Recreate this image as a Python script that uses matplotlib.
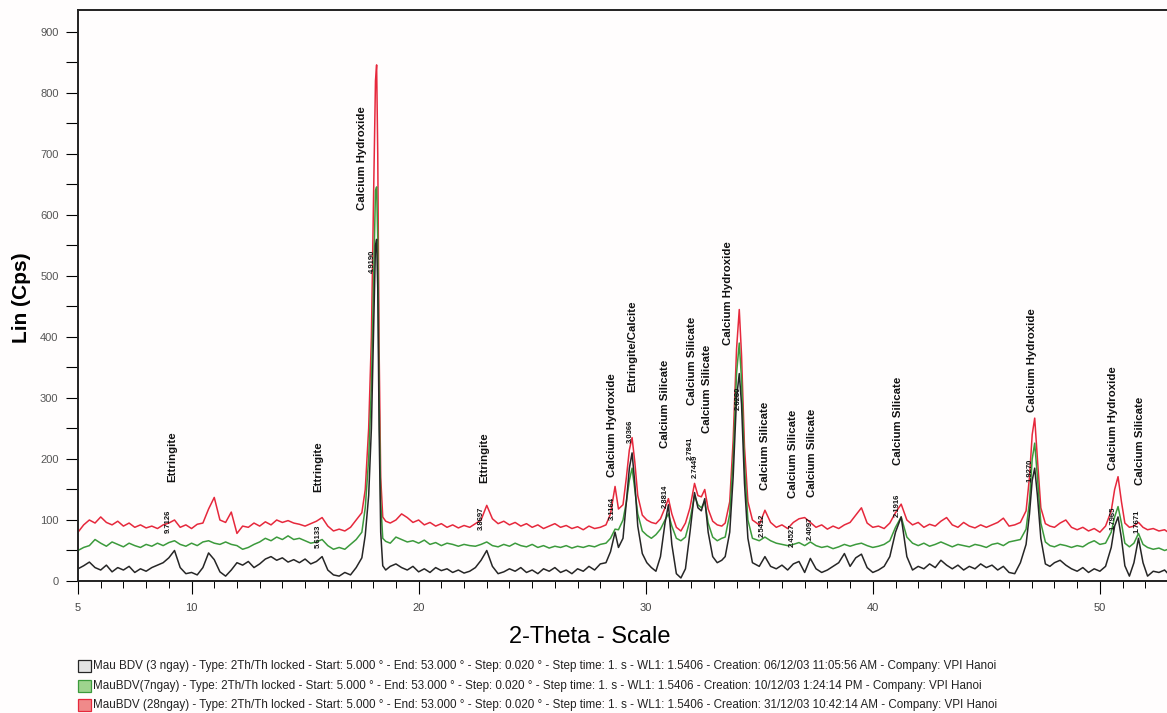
import matplotlib.pyplot as plt
from matplotlib.patches import Rectangle
from matplotlib.ticker import MultipleLocator

plt.rcParams['font.family'] = ['Liberation Sans', 'DejaVu Sans']

# 2-theta positions (denser around the peaks)
two_theta = [
    5.00, 5.25, 5.50, 5.75, 6.00, 6.25, 6.50, 6.75, 7.00, 7.25, 7.50, 7.75, 8.00, 8.25, 8.50, 8.75,
    9.00, 9.25, 9.50, 9.75, 10.00, 10.25, 10.50, 10.75, 11.00, 11.25, 11.50, 11.75, 12.00, 12.25,
    12.50, 12.75, 13.00, 13.25, 13.50, 13.75, 14.00, 14.25, 14.50, 14.75, 15.00, 15.25, 15.50,
    15.75, 16.00, 16.25, 16.50, 16.75, 17.00, 17.25, 17.50,
    17.65, 17.80, 17.92, 18.02, 18.10, 18.15, 18.20, 18.26, 18.33, 18.42, 18.55, 18.75,
    19.00, 19.25, 19.50, 19.75, 20.00, 20.25, 20.50, 20.75, 21.00, 21.25, 21.50, 21.75, 22.00,
    22.25, 22.50, 22.75, 23.00, 23.25, 23.50, 23.75, 24.00, 24.25, 24.50, 24.75, 25.00, 25.25,
    25.50, 25.75, 26.00, 26.25, 26.50, 26.75, 27.00, 27.25, 27.50, 27.75, 28.00,
    28.25, 28.45, 28.65, 28.80, 29.00, 29.15, 29.28, 29.40, 29.52, 29.65, 29.85, 30.05, 30.25,
    30.45, 30.65, 30.85, 31.00, 31.15, 31.35, 31.55, 31.75, 31.95, 32.15, 32.30, 32.45, 32.60,
    32.75, 32.95, 33.15, 33.35, 33.50, 33.70, 33.85, 34.00, 34.12, 34.22, 34.35, 34.50, 34.70,
    35.00, 35.25, 35.50, 35.75, 36.00, 36.25, 36.50, 36.75, 37.00, 37.25, 37.50, 37.75, 38.00,
    38.25, 38.50, 38.75, 39.00, 39.25, 39.50, 39.75, 40.00, 40.25, 40.50, 40.75, 41.00, 41.25,
    41.50, 41.75, 42.00, 42.25, 42.50, 42.75, 43.00, 43.25, 43.50, 43.75, 44.00, 44.25, 44.50,
    44.75, 45.00, 45.25, 45.50, 45.75, 46.00, 46.25, 46.50, 46.75,
    46.90, 47.02, 47.13, 47.25, 47.40, 47.60, 47.80, 48.00, 48.25, 48.50, 48.75, 49.00, 49.25,
    49.50, 49.75, 50.00, 50.25, 50.50, 50.65, 50.80, 50.95, 51.10, 51.30, 51.50, 51.70, 51.90,
    52.10, 52.35, 52.60, 52.85, 53.00,
]

# Mau BDV (3 ngay)
cps_3ngay = [
    20, 25, 31, 22, 18, 26, 15, 22, 18, 24, 14, 20, 16, 22, 26, 30,
    38, 50, 22, 12, 14, 10, 22, 46, 35, 15, 8, 18, 30, 26,
    32, 22, 28, 36, 40, 34, 38, 31, 35, 30, 36, 28, 32,
    40, 18, 10, 8, 14, 10, 22, 38,
    75, 140, 250, 420, 550, 560, 480, 250, 80, 25, 18, 24,
    28, 22, 18, 24, 15, 20, 14, 22, 17, 20, 14, 18, 13,
    16, 22, 34, 50, 24, 12, 15, 20, 16, 22, 14, 18, 12,
    20, 16, 22, 14, 18, 12, 20, 16, 24, 18, 28,
    30, 48, 80, 55, 70, 130, 185, 210, 160, 90, 45, 30, 22,
    16, 40, 95, 125, 60, 12, 5, 20, 80, 145, 120, 115, 135,
    80, 40, 30, 34, 40, 80, 170, 300, 340, 290, 160, 70, 30,
    24, 40, 24, 20, 26, 18, 28, 32, 14, 37, 20, 14, 18,
    24, 30, 45, 24, 38, 44, 22, 14, 18, 24, 40, 80, 105,
    40, 18, 24, 20, 28, 22, 34, 26, 20, 26, 18, 24, 20,
    28, 22, 26, 18, 24, 14, 12, 30, 60,
    110, 165, 185, 140, 70, 28, 24, 30, 34, 26, 20, 16, 22,
    14, 20, 16, 24, 55, 90, 105, 70, 25, 8, 30, 70, 30,
    8, 16, 14, 18, 12,
]

# MauBDV (7ngay)
cps_7ngay = [
    50, 55, 58, 68, 62, 57, 64, 60, 56, 62, 58, 55, 60, 57, 62, 58,
    63, 66, 60, 57, 62, 58, 64, 66, 62, 60, 64, 60, 58, 52,
    55, 60, 64, 70, 66, 72, 68, 74, 68, 70, 66, 62, 64,
    68, 58, 52, 55, 52, 60, 68, 80,
    120, 200, 320, 500, 640, 646, 560, 300, 130, 70, 65, 62,
    72, 68, 64, 66, 62, 67, 60, 63, 58, 62, 60, 57, 60,
    58, 57, 60, 64, 58, 56, 60, 57, 62, 58, 56, 60, 55,
    58, 54, 57, 55, 58, 54, 57, 55, 58, 56, 60,
    62, 70, 85, 84, 100, 130, 165, 185, 150, 110, 82, 75, 70,
    76, 85, 100, 110, 90, 70, 66, 72, 100, 140, 125, 120, 130,
    95, 72, 66, 70, 72, 110, 200, 340, 390, 330, 190, 100, 70,
    66, 72, 66, 62, 60, 58, 60, 63, 58, 64, 58, 55, 57,
    53, 56, 60, 57, 60, 62, 58, 55, 57, 60, 66, 88, 105,
    72, 62, 58, 62, 57, 60, 64, 60, 56, 60, 58, 56, 60,
    58, 55, 60, 62, 58, 64, 66, 68, 85,
    130, 200, 226, 170, 95, 64, 58, 56, 60, 58, 55, 58, 56,
    62, 66, 60, 62, 80, 105, 122, 95, 62, 56, 62, 78, 60,
    55, 52, 54, 50, 52,
]

# MauBDV (28ngay)
cps_28ngay = [
    80, 92, 100, 95, 105, 96, 92, 98, 90, 95, 88, 92, 87, 90, 86, 92,
    95, 100, 88, 92, 86, 93, 95, 118, 137, 100, 96, 113, 78, 90,
    88, 95, 90, 97, 92, 100, 96, 99, 95, 93, 90, 94, 98,
    104, 90, 82, 85, 82, 88, 100, 112,
    150, 250, 400, 640, 820, 846, 700, 380, 170, 105, 98, 95,
    100, 110, 104, 96, 100, 92, 96, 90, 94, 88, 92, 87, 91,
    88, 94, 100, 124, 102, 94, 98, 92, 96, 90, 94, 88, 92,
    86, 90, 94, 88, 91, 86, 89, 84, 90, 86, 88,
    92, 110, 155, 118, 125, 170, 215, 235, 195, 140, 108, 100, 96,
    94, 102, 120, 135, 110, 88, 82, 95, 120, 160, 140, 138, 150,
    118, 98, 92, 90, 95, 130, 230, 380, 445, 370, 220, 130, 100,
    92, 116, 96, 88, 92, 86, 96, 102, 104, 96, 88, 92, 85,
    90, 86, 92, 96, 108, 120, 95, 88, 90, 86, 95, 112, 126,
    100, 92, 96, 88, 93, 90, 98, 104, 92, 88, 96, 90, 87,
    92, 88, 92, 96, 103, 90, 92, 96, 115,
    170, 240, 267, 200, 120, 94, 90, 88, 95, 100, 88, 84, 88,
    82, 86, 80, 90, 115, 150, 171, 130, 95, 88, 90, 96, 88,
    84, 86, 82, 84, 80,
]

# phase names written above the peaks
label_pos = [9.14, 15.57, 17.51, 22.89, 28.52, 29.41, 30.86, 32.05, 32.71, 33.63,
             35.26, 36.50, 37.33, 41.12, 47.03, 50.59, 51.78]
label_base = [162, 146, 608, 161, 170, 310, 218, 288, 243, 387,
              149, 136, 138, 190, 277, 182, 157]
label_text = ["Ettringite", "Ettringite", "Calcium Hydroxide", "Ettringite",
              "Calcium Hydroxide", "Ettringite/Calcite", "Calcium Silicate",
              "Calcium Silicate", "Calcium Silicate", "Calcium Hydroxide",
              "Calcium Silicate", "Calcium Silicate", "Calcium Silicate",
              "Calcium Silicate", "Calcium Hydroxide", "Calcium Hydroxide",
              "Calcium Silicate"]

# small d-spacing tags on the peaks
d_pos = [8.96, 15.57, 17.95, 22.75, 28.52, 29.32, 30.86, 31.96, 32.18, 34.07,
         35.13, 36.45, 37.25, 41.08, 46.94, 50.59, 51.65]
d_base = [79, 54, 505, 84, 100, 226, 120, 198, 169, 280, 72, 56, 67, 105, 162, 84, 79]
d_text = ["9.7126", "5.6133", "4.9190", "3.8697", "3.1164", "3.0366", "2.8814",
          "2.7841", "2.7449", "2.6280", "2.5412", "2.4527", "2.4097", "2.1916",
          "1.9270", "1.7965", "1.7671"]

legend_text = [
    "Mau BDV (3 ngay) - Type: 2Th/Th locked - Start: 5.000 \u00b0 - End: 53.000 \u00b0 - Step: 0.020 \u00b0 - Step time: 1. s - WL1: 1.5406 - Creation: 06/12/03 11:05:56 AM - Company: VPI Hanoi",
    "MauBDV(7ngay) - Type: 2Th/Th locked - Start: 5.000 \u00b0 - End: 53.000 \u00b0 - Step: 0.020 \u00b0 - Step time: 1. s - WL1: 1.5406 - Creation: 10/12/03 1:24:14 PM - Company: VPI Hanoi",
    "MauBDV (28ngay) - Type: 2Th/Th locked - Start: 5.000 \u00b0 - End: 53.000 \u00b0 - Step: 0.020 \u00b0 - Step time: 1. s - WL1: 1.5406 - Creation: 31/12/03 10:42:14 AM - Company: VPI Hanoi",
]
line_colors = ['#262626', '#3c9a3c', '#e6283c']
icon_faces = ['#e4e4e4', '#9ed48e', '#f08a8a']

W, H = 1167, 713
fig = plt.figure(figsize=(W / 100, H / 100), dpi=100)
fig.patch.set_facecolor('#fffdfd')
ax = fig.add_axes([78 / W, 132 / H, 1090 / W, 571 / H])
ax.set_facecolor('none')

# red first so the younger samples sit on top
ax.plot(two_theta, cps_28ngay, color=line_colors[2], lw=1.1)
ax.plot(two_theta, cps_7ngay, color=line_colors[1], lw=1.1)
ax.plot(two_theta, cps_3ngay, color=line_colors[0], lw=1.1)

for p, b, t in zip(label_pos, label_base, label_text):
    ax.text(p, b, t, rotation=90, ha='center', va='bottom', fontsize=8.2,
            fontweight='bold', color='#111111')
for p, b, t in zip(d_pos, d_base, d_text):
    ax.text(p, b, t, rotation=90, ha='center', va='bottom', fontsize=5.5,
            fontweight='bold', color='#111111')

ax.set_xlim(5, 53)
ax.set_ylim(0, 936)
ax.spines['right'].set_visible(False)
for s in ['top', 'left', 'bottom']:
    ax.spines[s].set_linewidth(1.4)
    ax.spines[s].set_color('#222222')

ax.set_xticks([5, 10, 20, 30, 40, 50])
ax.xaxis.set_minor_locator(MultipleLocator(1))
ax.yaxis.set_major_locator(MultipleLocator(100))
ax.yaxis.set_minor_locator(MultipleLocator(50))
ax.tick_params(axis='y', which='both', direction='out', length=9, width=0.8,
               labelsize=8, labelcolor='#555555', pad=5)
ax.tick_params(axis='x', which='major', direction='out', length=9, width=0.8,
               labelsize=8, labelcolor='#444444', pad=7)
ax.tick_params(axis='x', which='minor', direction='out', length=5, width=0.7)

fig.text(22 / W, 1 - 298 / H, 'Lin (Cps)', rotation=90, ha='center', va='center',
         fontsize=15, fontweight='bold')
fig.text(590 / W, 1 - 637 / H, '2-Theta - Scale', ha='center', va='center', fontsize=17)

for i, t in enumerate(legend_text):
    yc = 666 + i * 19.5
    fig.patches.append(Rectangle((78 / W, 1 - (yc + 6) / H), 13 / W, 12 / H,
                                 transform=fig.transFigure, facecolor=icon_faces[i],
                                 edgecolor=line_colors[i], lw=0.9))
    fig.text(93 / W, 1 - yc / H, t, ha='left', va='center', fontsize=8.4, color='#222222')

fig.savefig('out.png', dpi=100, facecolor=fig.get_facecolor())
